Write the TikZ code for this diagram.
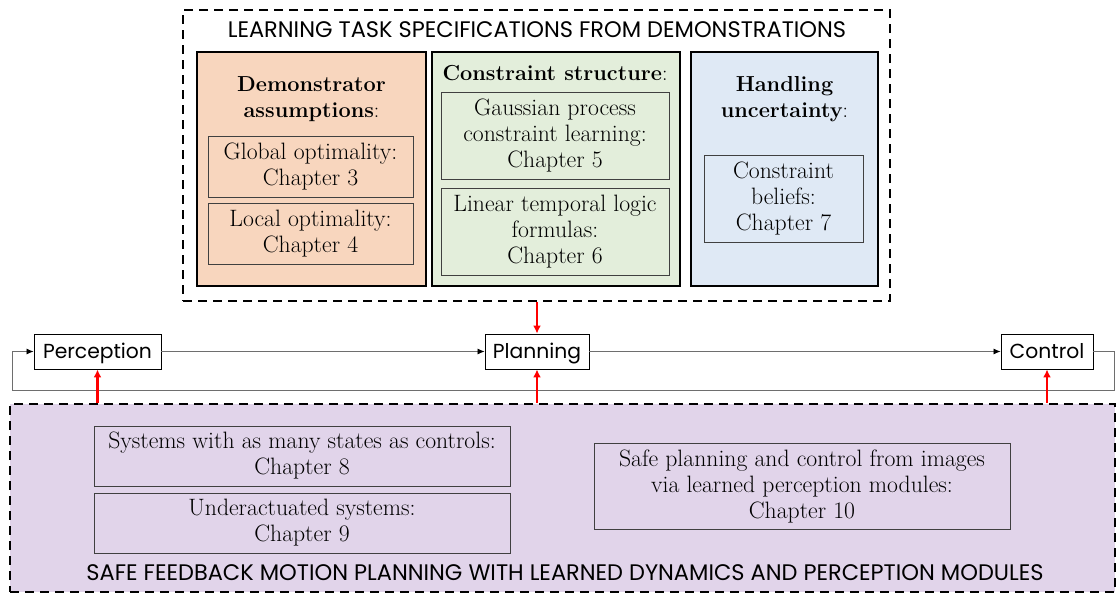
\documentclass[tikz,border=0pt]{standalone}
\usepackage{fontspec}
\setsansfont{Poppins}
\usetikzlibrary{arrows.meta}
\definecolor{peach}{RGB}{248,214,190}
\definecolor{sage}{RGB}{227,238,219}
\definecolor{skyb}{RGB}{223,233,245}
\definecolor{lilac}{RGB}{225,212,234}
\definecolor{linegray}{RGB}{110,110,110}
\newcommand\srf{\fontsize{23.7}{26}\selectfont}
\newcommand\srb{\fontsize{21.7}{26}\selectfont}
\newcommand\sfl{\sffamily\fontsize{20.3}{22}\selectfont}
\newcommand\stl{\sffamily\fontsize{22.5}{22}\selectfont}
\begin{document}
\begin{tikzpicture}[x=1pt,y=-1pt,
  dashbox/.style={draw=black,line width=2.4pt,dash pattern=on 9pt off 6pt,inner sep=0pt},
  panel/.style={draw=black,line width=2.6pt,inner sep=0pt},
  chap/.style={draw=black!75,line width=0.9pt,align=center,inner sep=0pt,font=\srf},
  ptitle/.style={align=center,inner sep=0pt,font=\srb},
  flow/.style={draw=black,line width=0.9pt,inner sep=0pt,font=\sfl,minimum height=35pt,text height=17pt,text depth=3pt},
  flowline/.style={draw=linegray,line width=0.8pt,-{Latex[length=7pt,width=6pt,color=black]}},
  redarrow/.style={draw=red,line width=2.4pt,-{Latex[length=8pt,width=8pt]}},
  bigtitle/.style={inner sep=0pt,font=\stl}]
\useasboundingbox (0,0) rectangle (1117,595);
% bottom region
\node[dashbox,fill=lilac,minimum width=1105,minimum height=188] (bot) at (562.5,498) {};
% top region
\node[dashbox,minimum width=707,minimum height=291] (top) at (536.5,155.5) {};
\node[bigtitle] (toptitle) at (537,30) {LEARNING TASK SPECIFICATIONS FROM DEMONSTRATIONS};
% panels
\node[panel,fill=peach,minimum width=229,minimum height=234] (pA) at (311.5,169) {};
\node[panel,fill=sage,minimum width=248,minimum height=234] (pB) at (556,169) {};
\node[panel,fill=skyb,minimum width=187,minimum height=234] (pC) at (784.5,169) {};
\node[ptitle] (tA) at (311.5,99) {\textbf{Demonstrator}\\\textbf{assumptions}:};
\node[ptitle] (tB) at (555,73) {\textbf{Constraint structure}:};
\node[ptitle] (tC) at (784.5,99) {\textbf{Handling}\\\textbf{uncertainty}:};
\node[chap,minimum width=205,minimum height=61] (c3) at (310.5,166.5) {Global optimality:\\Chapter 3};
\node[chap,minimum width=205,minimum height=61] (c4) at (310.5,233.5) {Local optimality:\\Chapter 4};
\node[chap,minimum width=228,minimum height=87] (c5) at (555,135.5) {Gaussian process\\constraint learning:\\Chapter 5};
\node[chap,minimum width=228,minimum height=87] (c6) at (555,231.5) {Linear temporal logic\\formulas:\\Chapter 6};
\node[chap,minimum width=159,minimum height=87] (c7) at (783.5,198.5) {Constraint\\beliefs:\\Chapter 7};
% flow
\node[flow,minimum width=127] (perc) at (97.5,351.5) {Perception};
\node[flow,minimum width=104] (plan) at (537,351.5) {Planning};
\node[flow,minimum width=92] (ctrl) at (1047,351.5) {Control};
\coordinate (fbR) at (1114,390);
\coordinate (fbL) at (12,390);
\draw[flowline] (perc) -- (plan);
\draw[flowline] (plan) -- (ctrl);
\draw[flowline] (ctrl.east) -| (fbR) -- (fbL) |- (perc.west);
\draw[redarrow] (top.south -| plan) -- (plan.north);
\draw[redarrow] (bot.north -| perc) -- (perc.south);
\draw[redarrow] (bot.north -| plan) -- (plan.south);
\draw[redarrow] (bot.north -| ctrl) -- (ctrl.south);
% bottom chapters
\node[chap,minimum width=416,minimum height=60] (c8) at (302,456) {Systems with as many states as controls:\\Chapter 8};
\node[chap,minimum width=416,minimum height=60] (c9) at (302,523) {Underactuated systems:\\Chapter 9};
\node[chap,minimum width=416,minimum height=86] (c10) at (802,486) {Safe planning and control from images\\via learned perception modules:\\Chapter 10};
\node[bigtitle] (bottitle) at (565,573) {SAFE FEEDBACK MOTION PLANNING WITH LEARNED DYNAMICS AND PERCEPTION MODULES};
\end{tikzpicture}
\end{document}
